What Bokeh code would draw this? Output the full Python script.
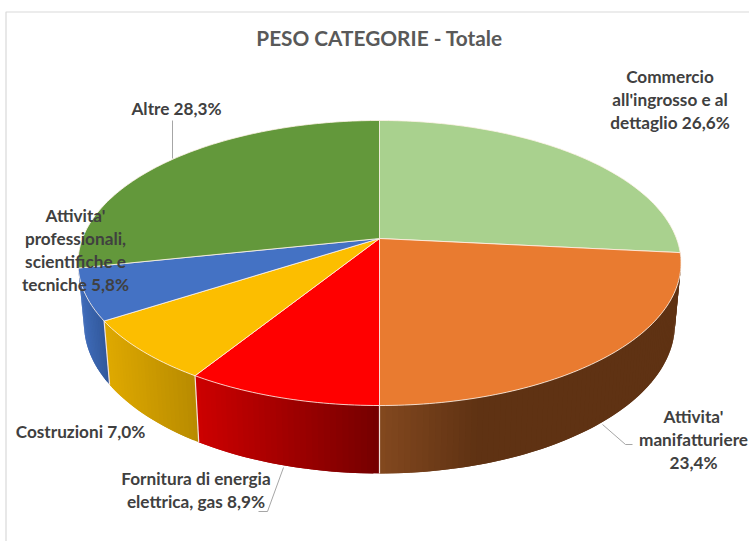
import math
from bokeh.plotting import figure
from bokeh.models import Range1d
from bokeh.core.properties import value
from bokeh.embed import file_html
from bokeh.resources import INLINE

title = "PESO CATEGORIE - Totale"
categories = ["Commercio all'ingrosso e al dettaglio", "Attivita' manifatturiere",
              "Fornitura di energia elettrica, gas", "Costruzioni",
              "Attivita' professionali, scientifiche e tecniche", "Altre"]
shares = [26.6, 23.4, 8.9, 7.0, 5.8, 28.3]
top_colors = ["#A9D18E", "#E97B30", "#FF0000", "#FCBE00", "#4472C4", "#63983B"]
# side shading: colour at left x, colour at right x
side_shades = [None, ("#84491F", "#5F3213", 379, 480), ("#CC0000", "#760000", 199, 379),
               ("#DDA800", "#B78A00", 109, 199), ("#3F6BB8", "#2F5597", 80, 109), None]
label_texts = ["Commercio\nall'ingrosso e al\ndettaglio 26,6%", "Attivita'\nmanifatturiere\n23,4%",
               "Fornitura di energia\nelettrica, gas 8,9%", "Costruzioni 7,0%",
               "Attivita'\nprofessionali,\nscientifiche e\ntecniche 5,8%", "Altre 28,3%"]

# layout (pixels of the page)
CX, CY, A, B, K = 379.0, 238.0, 297.0, 138.3, 0.172
BY0, BSX, BSY = 297.6, 0.98, 1.05
label_x = [669.5, 693, 195.5, 80, 75, 176]
label_y = [65, 405, 467, 420, 204, 97]
leaders = [([172, 172], [120, 158]), ([602, 625, 632], [424, 444, 444]), ([283, 267, 258], [467, 511, 511])]

def top_pt(t):
    a, b = math.sin(t), math.cos(t)
    d = 1 + K * b
    return CX + A * a / d, CY - B * b / d

def bot_pt(t):
    a, b = math.sin(t), math.cos(t)
    d = 1 + K * b
    return CX + BSX * A * a / d, BY0 - BSY * B * b / d

def mix(c1, c2, f):
    f = max(0.0, min(1.0, f))
    p = [int(c1[i:i+2], 16) for i in (1, 3, 5)]
    q = [int(c2[i:i+2], 16) for i in (1, 3, 5)]
    return "#%02x%02x%02x" % tuple(round(u + (v - u) * f) for u, v in zip(p, q))

total = sum(shares)
edges = [0.0]
for s in shares:
    edges.append(edges[-1] + s / total * 2 * math.pi)

p = figure(width=749, height=541, output_backend="svg", toolbar_location=None,
           x_range=Range1d(0, 749), y_range=Range1d(541, 0), min_border=0,
           outline_line_color=None, x_axis_location=None, y_axis_location=None)
p.xgrid.visible = False
p.ygrid.visible = False

# chart frame
p.line([5.5, 5.5, 749], [541, 11.5, 11.5], line_color="#D9D9D9", line_width=1.2)

# sides: each strip overlaps the following one so no seams appear
sx, sy, sc = [], [], []
for i, shade in enumerate(side_shades):
    if shade is None:
        continue
    c1, c2, x1, x2 = shade
    t0, t1 = edges[i], edges[i + 1]
    n = max(2, int((t1 - t0) / math.radians(1.0)))
    for j in range(n):
        u = t0 + (t1 - t0) * j / n
        v = t0 + (t1 - t0) * min(j + 2, n) / n
        a, b, c, d = top_pt(u), top_pt(v), bot_pt(v), bot_pt(u)
        sx.append([a[0], b[0], c[0], d[0]])
        sy.append([a[1], b[1], c[1], d[1]])
        sc.append(mix(c1, c2, (a[0] - x1) / (x2 - x1)))
p.patches(sx, sy, fill_color=sc, line_color=None)

# pale lines at side boundaries
for t in edges[2:5]:
    a, c = top_pt(t), bot_pt(t)
    p.line([a[0], c[0]], [a[1], c[1]], line_color="#F3E3DC", line_width=1.2)

# top faces
tx, ty = [], []
for i in range(len(shares)):
    t0, t1 = edges[i], edges[i + 1]
    n = max(2, int((t1 - t0) / math.radians(1.0)))
    pts = [top_pt(t0 + (t1 - t0) * j / n) for j in range(n + 1)]
    tx.append([CX] + [q[0] for q in pts])
    ty.append([CY] + [q[1] for q in pts])
p.patches(tx, ty, fill_color=top_colors, line_color="#FFF4EA", line_width=1.0, line_alpha=0.8)

# leader lines
for lx, ly in leaders:
    p.line(lx, ly, line_color="#A6A6A6", line_width=1)

# labels
p.text(label_x, label_y, text=label_texts, text_font=value("Lato"), text_font_style="bold",
       text_font_size="17.2px", text_color="#404040", text_align="center",
       text_baseline="top", text_line_height=1.1)
p.text([379], [24], text=[title], text_font=value("Lato"), text_font_style="bold",
       text_font_size="20.8px", text_color="#595959", text_align="center", text_baseline="top")

open("out.html", "w").write(file_html(p, INLINE))
